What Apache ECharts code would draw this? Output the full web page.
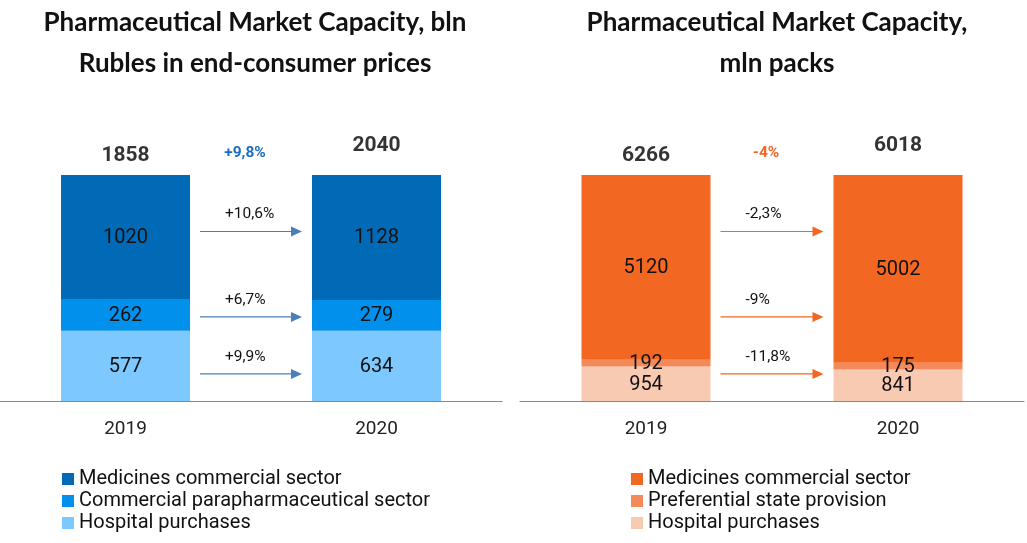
<!DOCTYPE html>
<html><head><meta charset="utf-8">
<script src="https://cdn.jsdelivr.net/npm/echarts@6/dist/echarts.min.js"></script>
<style>html,body{margin:0;padding:0;background:#fff}#c{width:1027px;height:543px}</style>
</head><body><div id="c"></div>
<script>
// ---- data ----
const categories = ['2019', '2020'];
const rubCommercial = [1020, 1128];
const rubPara = [262, 279];
const rubHospital = [577, 634];
const rubTotal = [1858, 2040];
const rubChanges = ['+10,6%', '+6,7%', '+9,9%'];
const rubTotalChange = '+9,8%';

const packCommercial = [5120, 5002];
const packPref = [192, 175];
const packHospital = [954, 841];
const packTotal = [6266, 6018];
const packChanges = ['-2,3%', '-9%', '-11,8%'];
const packTotalChange = '-4%';

const rubNames = ['Medicines commercial sector', 'Commercial parapharmaceutical sector', 'Hospital purchases'];
const packNames = ['Medicines commercial sector', 'Preferential state provision', 'Hospital purchases'];

// ---- layout / style ----
const BAR_W = 129;
const arrowLevels = [75, 37.2, 12];
const blues = ['#016AB7', '#0190EB', '#7DC8FF'];
const oranges = ['#F26722', '#F48A5A', '#F9CAB2'];
const totalDist = [9, 19];

function pct(arrs, i) {
  const s = arrs.reduce((a, b) => a + b[i], 0);
  return arrs.map(a => a[i] / s * 100);
}
function pctSeries(arrs) {
  const out = arrs.map(() => []);
  categories.forEach((c, i) => { pct(arrs, i).forEach((p, k) => out[k].push(p)); });
  return out;
}

function barSeries(names, arrs, colors, axisIdx) {
  const p = pctSeries(arrs);
  const order = [2, 1, 0];
  return order.map(k => ({
    type: 'bar', name: names[k], stack: 's' + axisIdx,
    xAxisIndex: axisIdx, yAxisIndex: axisIdx,
    barWidth: BAR_W,
    itemStyle: { color: colors[k] },
    data: p[k],
    label: {
      show: true, position: 'inside', color: '#111', fontSize: 20,
      fontFamily: 'Roboto', offset: [0, 1],
      formatter: prm => String(arrs[k][prm.dataIndex])
    },
    emphasis: { disabled: true },
    z: 2
  }));
}

function totalSeries(totals, axisIdx) {
  return {
    type: 'scatter', xAxisIndex: axisIdx, yAxisIndex: axisIdx,
    symbolSize: 0, silent: true,
    data: totals.map((t, i) => ({
      value: [i, 100],
      label: { show: true, position: 'top', distance: totalDist[i],
        formatter: String(t), color: '#000', fontSize: 21, fontWeight: 'bold', fontFamily: 'Roboto' }
    })),
    z: 5
  };
}

function arrowSeries(changes, totalChange, color, headColor, accent, axisIdx) {
  return {
    type: 'custom', xAxisIndex: axisIdx, yAxisIndex: axisIdx, silent: true,
    data: changes.map((c, i) => [0, arrowLevels[i]]),
    renderItem: (params, api) => {
      const i = params.dataIndex;
      const y = api.value(1);
      const p0 = api.coord([0, y]);
      const p1 = api.coord([1, y]);
      const x0 = p0[0] + BAR_W / 2 + 10;
      const x1 = p1[0] - BAR_W / 2 - 10;
      const yy = p0[1];
      const children = [
        { type: 'line', shape: { x1: x0, y1: yy, x2: x1 - 8, y2: yy }, style: { stroke: color, lineWidth: 1.2 } },
        { type: 'polygon', shape: { points: [[x1 - 11, yy - 5], [x1, yy], [x1 - 11, yy + 5]] }, style: { fill: headColor } },
        { type: 'text', x: x0 + 25, y: yy - 17, style: { text: changes[i], fill: '#111', fontSize: 15.5, fontFamily: 'Roboto', align: 'left', verticalAlign: 'middle' } }
      ];
      if (i === 0) {
        const top = api.coord([0, 100]);
        children.push({ type: 'text', x: (x0 + x1) / 2 - 6, y: top[1] - 22,
          style: { text: totalChange, fill: accent, fontSize: 15.5, fontWeight: 'bold', fontFamily: 'Roboto', align: 'center', verticalAlign: 'middle' } });
      }
      return { type: 'group', children };
    },
    z: 4
  };
}

const chart = echarts.init(document.getElementById('c'));
const axisCommon = {
  type: 'category', data: categories,
  axisLine: { lineStyle: { color: '#888', width: 1 } },
  axisTick: { show: false },
  axisLabel: { color: '#222', fontSize: 19, fontFamily: 'Roboto', margin: 19 }
};
const legendCommon = {
  orient: 'vertical', top: 469, itemWidth: 12, itemHeight: 12, itemGap: 2, icon: 'rect', selectedMode: false, padding: 0,
  textStyle: { fontSize: 20, fontFamily: 'Roboto', color: '#111', lineHeight: 20 }
};
const titleStyle = { fontFamily: 'Lato', fontWeight: 'bold', fontSize: 26, lineHeight: 41, color: '#111' };
chart.setOption({
  animation: false,
  title: [
    { text: 'Pharmaceutical Market Capacity, bln\nRubles in end-consumer prices', left: 250, top: -3, textAlign: 'center', textStyle: titleStyle },
    { text: 'Pharmaceutical Market Capacity,\nmln packs', left: 772, top: -3, textAlign: 'center', textStyle: titleStyle }
  ],
  grid: [
    { left: 0, width: 502, top: 175, bottom: 142 },
    { left: 520, width: 504, top: 175, bottom: 142 }
  ],
  xAxis: [Object.assign({ gridIndex: 0 }, axisCommon), Object.assign({ gridIndex: 1 }, axisCommon)],
  yAxis: [
    { gridIndex: 0, type: 'value', min: 0, max: 100, show: false },
    { gridIndex: 1, type: 'value', min: 0, max: 100, show: false }
  ],
  legend: [
    Object.assign({ left: 62, data: rubNames.map((n, k) => ({ name: n, itemStyle: { color: blues[k] } })) }, legendCommon),
    Object.assign({ left: 631, data: packNames.map((n, k) => ({ name: n, itemStyle: { color: oranges[k] } })) }, legendCommon)
  ],
  series: [
    ...barSeries(rubNames, [rubCommercial, rubPara, rubHospital], blues, 0),
    ...barSeries(packNames, [packCommercial, packPref, packHospital], oranges, 1),
    totalSeries(rubTotal, 0),
    totalSeries(packTotal, 1),
    arrowSeries(rubChanges, rubTotalChange, '#4A7EBB', '#4A7EBB', '#1B6EC2', 0),
    arrowSeries(packChanges, packTotalChange, '#F26722', '#F26722', '#F26722', 1)
  ]
});
</script></body></html>
